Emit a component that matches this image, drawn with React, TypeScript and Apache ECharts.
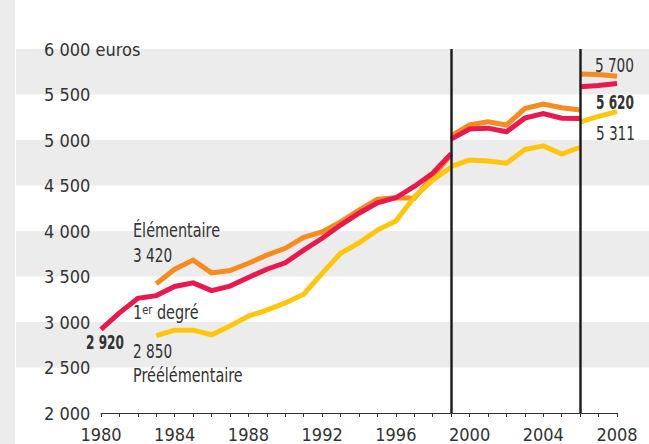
import React, { useEffect, useRef } from 'react';
import * as echarts from 'echarts';

const FONT = '"Liberation Sans Narrow", "DejaVu Sans Condensed", "Roboto Condensed", Roboto, sans-serif';
const TEXT = '#333333';
const BAND = '#ececec';
const C_ELEM = '#f68b1f';
const C_PRE = '#ffc60b';
const C_DEG = '#e9184d';

// Years
const yearsA = [1980, 1981, 1982, 1983, 1984, 1985, 1986, 1987, 1988, 1989, 1990, 1991, 1992, 1993, 1994, 1995, 1996, 1997, 1998, 1999];
const yearsA2 = [1983, 1984, 1985, 1986, 1987, 1988, 1989, 1990, 1991, 1992, 1993, 1994, 1995, 1996, 1997, 1998, 1999];
const yearsB = [1999, 2000, 2001, 2002, 2003, 2004, 2005, 2006];
const yearsC = [2006, 2007, 2008];

// 1er degré
const degreA = [2920, 3100, 3260, 3290, 3390, 3430, 3345, 3395, 3490, 3580, 3650, 3790, 3920, 4065, 4195, 4310, 4365, 4490, 4635, 4850];
const degreB = [5010, 5120, 5130, 5090, 5240, 5290, 5240, 5235];
const degreC = [5585, 5600, 5620];

// Élémentaire
const elemA = [3420, 3580, 3680, 3540, 3565, 3645, 3735, 3810, 3930, 3990, 4100, 4230, 4350, 4365, 4360, 4600, 4840];
const elemB = [5045, 5165, 5200, 5165, 5345, 5395, 5355, 5330];
const elemC = [5725, 5720, 5700];

// Préélémentaire
const preA = [2850, 2910, 2910, 2860, 2955, 3065, 3130, 3210, 3305, 3535, 3755, 3870, 4010, 4110, 4375, 4560, 4700];
const preB = [4710, 4780, 4770, 4745, 4895, 4935, 4845, 4920];
const preC = [5200, 5260, 5311];

// Axis ticks
const yTickValues = [2000, 2500, 3000, 3500, 4000, 4500, 5000, 5500, 6000];
const yTickLabels = ['2 000', '2 500', '3 000', '3 500', '4 000', '4 500', '5 000', '5 500', '6 000 euros'];
const xLabelYears = [1980, 1984, 1988, 1992, 1996, 2000, 2004, 2008];
const breakYears = [1999, 2006];

const zip = (xs: number[], ys: number[]) => xs.map((x, i) => [x, ys[i]]);

const seg = (name: string, xs: number[], ys: number[], color: string, z: number) => ({
  type: 'line',
  name,
  xAxisIndex: 1,
  yAxisIndex: 1,
  data: zip(xs, ys),
  symbol: 'none',
  showSymbol: false,
  silent: true,
  z,
  lineStyle: { color, width: 5, join: 'miter', cap: 'butt' },
});

export default function App() {
  const ref = useRef<HTMLDivElement>(null);
  useEffect(() => {
    const chart = echarts.init(ref.current!, null, { renderer: 'svg' });
    const txt = (x: number, y: number, text: string, opts: any = {}) => ({
      type: 'text',
      x,
      y,
      z: 20,
      scaleX: opts.scale || 0.845,
      style: {
        text,
        fill: TEXT,
        fontFamily: FONT,
        fontSize: 19,
        fontWeight: opts.bold ? 'bold' : 'normal',
        textAlign: opts.align || 'left',
        textVerticalAlign: 'middle',
      },
    });
    chart.setOption({
      animation: false,
      textStyle: { fontFamily: FONT },
      grid: [
        { left: 16, right: 0, top: 49, bottom: 31 },
        { left: 101, right: 32, top: 49, bottom: 31 },
      ],
      xAxis: [
        { gridIndex: 0, type: 'value', min: 0, max: 1, show: false },
        {
          gridIndex: 1,
          type: 'value',
          min: 1980,
          max: 2008,
          interval: 1,
          axisLine: { show: true, lineStyle: { color: TEXT, width: 1 } },
          axisTick: { show: true, length: 4, lineStyle: { color: TEXT, width: 1 } },
          splitLine: { show: false },
          axisLabel: {
            color: TEXT,
            fontSize: 18,
            fontFamily: FONT,
            margin: 12,
            showMinLabel: true,
            showMaxLabel: true,
            formatter: (v: number) => (xLabelYears.indexOf(v) >= 0 ? String(v) : ''),
          },
        },
      ],
      yAxis: [
        {
          gridIndex: 0,
          type: 'value',
          min: 2000,
          max: 6000,
          interval: 500,
          axisLine: { show: false },
          axisTick: { show: false },
          splitLine: { show: false },
          splitArea: { show: true, areaStyle: { color: ['rgba(255,255,255,0)', BAND] } },
          axisLabel: {
            inside: true,
            margin: 28,
            color: TEXT,
            fontSize: 18,
            fontFamily: FONT,
            showMinLabel: true,
            showMaxLabel: true,
            formatter: (v: number) => {
              const i = yTickValues.indexOf(v);
              return i >= 0 ? yTickLabels[i] : '';
            },
          },
        },
        { gridIndex: 1, type: 'value', min: 2000, max: 6000, interval: 500, show: false },
      ],
      graphic: [
        { type: 'rect', shape: { x: 0, y: 0, width: 15, height: 444 }, style: { fill: BAND }, z: -1 },
        txt(133, 231, 'Élémentaire'),
        txt(133, 255, '3 420', { scale: 0.8 }),
        {
          type: 'text',
          x: 133,
          y: 313,
          z: 20,
          scaleX: 0.845,
          style: {
            text: '{a|1}{s|er}{a| degré}',
            fill: TEXT,
            fontFamily: FONT,
            fontSize: 19,
            textVerticalAlign: 'middle',
            rich: {
              a: { fontSize: 19, fontFamily: FONT, fill: TEXT, color: TEXT, verticalAlign: 'bottom' },
              s: { fontSize: 13, fontFamily: FONT, fill: TEXT, color: TEXT, verticalAlign: 'top' },
            },
          },
        },
        txt(124, 343, '2 920', { bold: true, align: 'right', scale: 0.71 }),
        txt(133, 351, '2 850', { scale: 0.8 }),
        txt(133, 376, 'Préélémentaire'),
        txt(634, 65, '5 700', { align: 'right', scale: 0.8 }),
        txt(634, 103, '5 620', { bold: true, align: 'right', scale: 0.71 }),
        txt(635, 133, '5 311', { align: 'right', scale: 0.8 }),
      ],
      series: [
        seg('Élémentaire A', yearsA2, elemA, C_ELEM, 2),
        seg('Élémentaire B', yearsB, elemB, C_ELEM, 2),
        seg('Élémentaire C', yearsC, elemC, C_ELEM, 2),
        seg('Préélémentaire A', yearsA2, preA, C_PRE, 3),
        seg('Préélémentaire B', yearsB, preB, C_PRE, 3),
        seg('Préélémentaire C', yearsC, preC, C_PRE, 3),
        seg('1er degré A', yearsA, degreA, C_DEG, 4),
        seg('1er degré B', yearsB, degreB, C_DEG, 4),
        seg('1er degré C', yearsC, degreC, C_DEG, 4),
        {
          type: 'line',
          name: 'ruptures',
          xAxisIndex: 1,
          yAxisIndex: 1,
          data: [[1999, 2000]],
          symbol: 'none',
          lineStyle: { opacity: 0 },
          silent: true,
          z: 6,
          markLine: {
            silent: true,
            symbol: ['none', 'none'],
            label: { show: false },
            lineStyle: { color: '#231f20', width: 2.5, type: 'solid', opacity: 1 },
            data: breakYears.map((y) => ({ xAxis: y })),
          },
        },
      ],
    });
    return () => chart.dispose();
  }, []);
  return (
    <div
      ref={ref}
      style={{ position: 'fixed', left: 0, top: 0, width: 649, height: 444, background: '#fff' }}
    />
  );
}
